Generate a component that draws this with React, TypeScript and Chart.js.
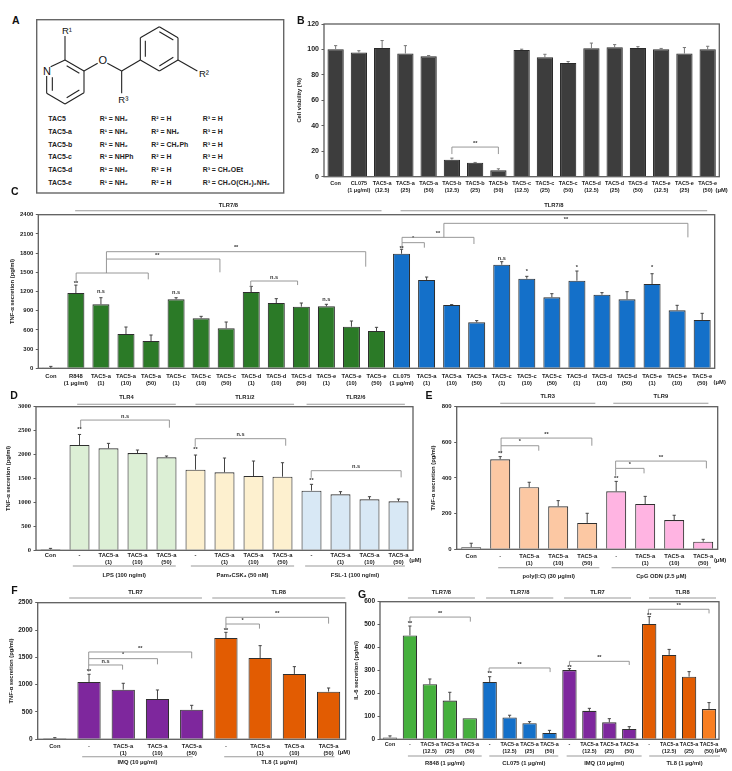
import React, { useEffect, useRef } from "react";
import { Chart, registerables } from "chart.js";

Chart.register(...registerables);

// ---------- Panel B ----------
const bLabels = [["Con"], ["CL075", "(1 μg/ml)"], ["TAC5-a", "(12.5)"], ["TAC5-a", "(25)"], ["TAC5-a", "(50)"], ["TAC5-b", "(12.5)"], ["TAC5-b", "(25)"], ["TAC5-b", "(50)"], ["TAC5-c", "(12.5)"], ["TAC5-c", "(25)"], ["TAC5-c", "(50)"], ["TAC5-d", "(12.5)"], ["TAC5-d", "(25)"], ["TAC5-d", "(50)"], ["TAC5-e", "(12.5)"], ["TAC5-e", "(25)"], ["TAC5-e", "(50)"]];
const bValues = [100.2, 97.6, 101.2, 96.8, 94.6, 13.4, 11, 5, 99.6, 93.9, 89.4, 101, 101.8, 101.2, 100.2, 96.8, 100.2];
const bTops = [103, 99, 107, 103, 95.2, 14.6, 11.2, 6.2, 100.2, 96.2, 90.5, 105, 103.8, 102.2, 100.8, 101.5, 102.5];
const bBrackets: any[] = [[5, 7, 23.3, 17.8, 17.8, "**"]];

// ---------- Panel C ----------
const cLabels = [["Con"], ["R848", "(1 μg/ml)"], ["TAC5-a", "(1)"], ["TAC5-a", "(10)"], ["TAC5-a", "(50)"], ["TAC5-c", "(1)"], ["TAC5-c", "(10)"], ["TAC5-c", "(50)"], ["TAC5-d", "(1)"], ["TAC5-d", "(10)"], ["TAC5-d", "(50)"], ["TAC5-e", "(1)"], ["TAC5-e", "(10)"], ["TAC5-e", "(50)"], ["CL075", "(1 μg/ml)"], ["TAC5-a", "(1)"], ["TAC5-a", "(10)"], ["TAC5-a", "(50)"], ["TAC5-c", "(1)"], ["TAC5-c", "(10)"], ["TAC5-c", "(50)"], ["TAC5-d", "(1)"], ["TAC5-d", "(10)"], ["TAC5-d", "(50)"], ["TAC5-e", "(1)"], ["TAC5-e", "(10)"], ["TAC5-e", "(50)"]];
const cValues = [5, 1177, 1000, 536, 427, 1078, 781, 625, 1192, 1020, 963, 968, 650, 583, 1790, 1380, 989, 718, 1619, 1400, 1109, 1369, 1150, 1078, 1317, 906, 755];
const cTops = [30, 1300, 1103, 645, 520, 1103, 812, 723, 1280, 1088, 1020, 1000, 739, 640, 1860, 1426, 995, 745, 1666, 1437, 1166, 1520, 1182, 1197, 1478, 984, 859];
const cBrackets: any[] = [
  [1.01, 3.89, 1489, 1343, 1390, ""],
  [2.22, 6.75, 1707, 1489, 1500, "**", 4.25],
  [2.22, 12.57, 1822, 1707, 1588, "**"],
  [7.98, 9.85, 1364, 1197, 1301, "n.s"],
  [14.02, 14.91, 1963, 1874, 1885, "*"],
  [14.02, 16.89, 2046, 1963, 1942, "**"],
  [15.69, 25.43, 2265, 2046, 2046, "**"],
];
const cMarks: any[] = [[1, 1330, "**"], [2, 1200, "n.s"], [5, 1185, "n.s"], [11, 1070, "n.s"], [14, 1880, "**"], [18, 1722, "n.s"], [19, 1510, "*"], [21, 1570, "*"], [24, 1570, "*"]];
const cHeaders: any[] = [[0.97, 13.2, "TLR7/8"], [13.96, 26.2, "TLR7/8"]];

// ---------- Panel D ----------
const dLabels = [["Con"], ["-"], ["TAC5-a", "(1)"], ["TAC5-a", "(10)"], ["TAC5-a", "(50)"], ["-"], ["TAC5-a", "(1)"], ["TAC5-a", "(10)"], ["TAC5-a", "(50)"], ["-"], ["TAC5-a", "(1)"], ["TAC5-a", "(10)"], ["TAC5-a", "(50)"]];
const dValues = [20, 2200, 2130, 2032, 1942, 1684, 1629, 1552, 1538, 1246, 1170, 1065, 1023];
const dTops = [40, 2420, 2234, 2095, 1970, 1990, 1928, 1865, 1830, 1378, 1225, 1120, 1072];
const dBrackets: any[] = [[1.04, 4.1, 2721, 2561, 2561, "n.s"], [4.99, 8.11, 2332, 2165, 2185, "n.s"], [8.99, 12.09, 1663, 1517, 1524, "n.s"]];
const dMarks: any[] = [[1, 2520, "**"], [5, 2109, "**"], [9, 1469, "**"]];
const dHeaders: any[] = [[0.92, 4.32, "TLR4"], [5.0, 8.4, "TLR1/2"], [8.83, 12.22, "TLR2/6"]];
const dFooters: any[] = [[0.77, 4.32, "LPS (100 ng/ml)"], [4.84, 8.4, "Pam₃CSK₄ (50 nM)"], [8.78, 12.22, "FSL-1 (100 ng/ml)"]];

// ---------- Panel E ----------
const eLabels = [["Con"], ["-"], ["TAC5-a", "(1)"], ["TAC5-a", "(10)"], ["TAC5-a", "(50)"], ["-"], ["TAC5-a", "(1)"], ["TAC5-a", "(10)"], ["TAC5-a", "(50)"]];
const eValues = [12, 505, 348, 241, 148, 325, 254, 164, 43];
const eTops = [34, 520, 376, 273, 202, 381, 297, 191, 56];
const eBrackets: any[] = [[1.03, 2.33, 581, 538, 553, "*"], [1.03, 4.16, 624, 581, 581, "**"], [4.98, 5.96, 454, 413, 426, "*"], [4.98, 8.11, 495, 454, 454, "**"]];
const eMarks: any[] = [[1, 535, "**"], [5, 400, "**"]];
const eHeaders: any[] = [[1.0, 4.28, "TLR3"], [4.9, 8.18, "TLR9"]];
const eFooters: any[] = [[0.93, 4.42, "poly(I:C) (30 μg/ml)"], [4.84, 8.27, "CpG ODN (2.5 μM)"]];

// ---------- Panel F ----------
const fLabels = [["Con"], ["-"], ["TAC5-a", "(1)"], ["TAC5-a", "(10)"], ["TAC5-a", "(50)"], ["-"], ["TAC5-a", "(1)"], ["TAC5-a", "(10)"], ["TAC5-a", "(50)"]];
const fValues = [18, 1049, 909, 738, 543, 1854, 1488, 1196, 872];
const fTops = [30, 1190, 1025, 903, 622, 1958, 1714, 1330, 939];
const fBrackets: any[] = [[0.99, 1.98, 1360, 1238, 1275, "n.s"], [0.99, 3, 1476, 1360, 1372, "*"], [0.99, 4, 1598, 1476, 1482, "**"], [5, 5.98, 2110, 2000, 2025, "*"], [5, 8, 2233, 2110, 2117, "**"]];
const fMarks: any[] = [[1, 1238, "**"], [5, 1995, "**"]];
const fHeaders: any[] = [[0.42, 4.3, "TLR7"], [4.6, 8.49, "TLR8"]];
const fFooters: any[] = [[0.8, 4.03, "IMQ (10 μg/ml)"], [4.95, 8.17, "TL8 (1 μg/ml)"]];

// ---------- Panel G ----------
const gLabels = [["Con"], ["-"], ["TAC5-a", "(12.5)"], ["TAC5-a", "(25)"], ["TAC5-a", "(50)"], ["-"], ["TAC5-a", "(12.5)"], ["TAC5-a", "(25)"], ["TAC5-a", "(50)"], ["-"], ["TAC5-a", "(12.5)"], ["TAC5-a", "(25)"], ["TAC5-a", "(50)"], ["-"], ["TAC5-a", "(12.5)"], ["TAC5-a", "(25)"], ["TAC5-a", "(50)"]];
const gValues = [8, 453, 240, 169, 92, 250, 95, 70, 28, 302, 124, 74, 45, 503, 368, 273, 132];
const gTops = [15, 494, 263, 205, 92, 273, 105, 77, 39, 308, 135, 90, 55, 535, 392, 295, 160];
const gBrackets: any[] = [[1, 4.03, 533, 506, 513, "**"], [4.97, 8.03, 311, 291, 293, "**"], [9, 12, 340, 321, 324, "**"], [12.96, 16, 567, 545, 549, "**"]];
const gMarks: any[] = [[1, 507, "**"], [5, 286, "**"], [9, 314, "**"], [13, 539, "**"]];
const gHeaders: any[] = [[0.9, 4.26, "TLR7/8"], [4.82, 8.19, "TLR7/8"], [8.73, 12.09, "TLR7"], [12.99, 16.35, "TLR8"]];
const gFooters: any[] = [[0.9, 4.6, "R848 (1 μg/ml)"], [4.98, 8.44, "CL075 (1 μg/ml)"], [8.86, 12.62, "IMQ (10 μg/ml)"], [13, 16.55, "TL8 (1 μg/ml)"]];

// ---------- Panel A table ----------
const aCompounds = ["TAC5", "TAC5-a", "TAC5-b", "TAC5-c", "TAC5-d", "TAC5-e"];
const aR1 = ["R¹ = NH₂", "R¹ = NH₂", "R¹ = NH₂", "R¹ = NHPh", "R¹ = NH₂", "R¹ = NH₂"];
const aR2 = ["R² = H", "R² = NH₂", "R² = CH₂Ph", "R² = H", "R² = H", "R² = H"];
const aR3 = ["R³ = H", "R³ = H", "R³ = H", "R³ = H", "R³ = CH₂OEt", "R³ = CH₂O(CH₂)₂NH₂"];

// ---------- Colours ----------
const GRAY = "#c4c4c4";
const DARK = "#3d3d3d";
const GREEN = "#2b7a27";
const BLUE = "#1470c9";
const LGREEN = "#dcefd5";
const LYELLOW = "#fdf0cf";
const LBLUE = "#d8e8f5";
const PEACH = "#fcc8a3";
const PINK = "#ffb4e2";
const PURPLE = "#7e279d";
const ORANGE = "#e25c02";
const GGREEN = "#45b03d";
const LORANGE = "#f87f22";

const rep = (groups: [number, string][]) => groups.flatMap(([n, c]) => Array(n).fill(c));

const SANS = "'Liberation Sans', Arial, sans-serif";
const SERIF = "'Liberation Serif', serif";

type Panel = {
  box: number[]; plot: number[]; labels: any[]; values: number[]; tops: number[]; colors: string[];
  yMax: number; step: number; yTitle: string; titleX: number; tickPad: number; yFont?: string; ySize?: number;
  barPct: number; brackets?: any[]; marks?: any[]; headers?: any[]; footers?: any[];
  headerLineY?: number; headerTextY?: number; footerLineY?: number; footerTextY?: number;
  unit?: number[]; whisker?: string; border?: string; xSize?: number;
};

const panels: Panel[] = [
  { box: [290, 0, 732, 200], plot: [324, 24, 719.3, 176.7], labels: bLabels, values: bValues, tops: bTops, colors: rep([[17, DARK]]), yMax: 120, step: 20, yTitle: "Cell viability (%)", titleX: 300, tickPad: 3, barPct: 0.7, brackets: bBrackets, unit: [16.6, 13.3], whisker: "#777", border: "#2a2a2a", ySize: 7, xSize: 5.5 },
  { box: [0, 198, 732, 388], plot: [38.3, 214.7, 714.7, 368.3], labels: cLabels, values: cValues, tops: cTops, colors: rep([[1, GRAY], [13, GREEN], [13, BLUE]]), yMax: 2400, step: 300, yTitle: "TNF-α secretion (pg/ml)", titleX: 12.7, tickPad: 4, barPct: 0.68, brackets: cBrackets, marks: cMarks, headers: cHeaders, headerLineY: 210.7, headerTextY: 205, unit: [26.7, 13.7] },
  { box: [0, 388, 426, 582], plot: [36, 406.7, 413, 550.3], labels: dLabels, values: dValues, tops: dTops, colors: rep([[1, DARK], [4, LGREEN], [4, LYELLOW], [4, LBLUE]]), yMax: 3000, step: 500, yTitle: "TNF-α secretion (pg/ml)", titleX: 9.3, tickPad: 1.5, barPct: 0.69, brackets: dBrackets, marks: dMarks, headers: dHeaders, footers: dFooters, headerLineY: 404.3, headerTextY: 397, footerLineY: 566, footerTextY: 575, unit: [12.58, 10.4], yFont: SERIF, ySize: 6.5 },
  { box: [415, 388, 732, 582], plot: [456.7, 406.7, 717.7, 549.3], labels: eLabels, values: eValues, tops: eTops, colors: rep([[1, "#ffffff"], [4, PEACH], [4, PINK]]), yMax: 800, step: 200, yTitle: "TNF-α secretion (pg/ml)", titleX: 434, tickPad: 3, barPct: 0.69, brackets: eBrackets, marks: eMarks, headers: eHeaders, footers: eFooters, headerLineY: 403.3, headerTextY: 396.7, footerLineY: 567.7, footerTextY: 576, unit: [8.58, 11.4] },
  { box: [0, 584, 360, 771], plot: [37.7, 602.7, 345.7, 739.3], labels: fLabels, values: fValues, tops: fTops, colors: rep([[1, DARK], [4, PURPLE], [4, ORANGE]]), yMax: 2500, step: 500, yTitle: "TNF-α secretion (pg/ml)", titleX: 11.7, tickPad: 3, barPct: 0.68, brackets: fBrackets, marks: fMarks, headers: fHeaders, footers: fFooters, headerLineY: 598, headerTextY: 592.7, footerLineY: 756.7, footerTextY: 762.3, unit: [8.45, 12.7], ySize: 6.5 },
  { box: [345, 584, 732, 771], plot: [380, 601.7, 719, 739.3], labels: gLabels, values: gValues, tops: gTops, colors: rep([[1, "#9a9a9a"], [4, GGREEN], [4, BLUE], [4, PURPLE], [3, ORANGE], [1, LORANGE]]), yMax: 600, step: 100, yTitle: "IL-6 secretion (pg/ml)", titleX: 356.7, tickPad: 2, barPct: 0.72, brackets: gBrackets, marks: gMarks, headers: gHeaders, footers: gFooters, headerLineY: 598, headerTextY: 592.7, footerLineY: 756, footerTextY: 763, unit: [16.59, 11.4], ySize: 6.5, xSize: 5.4 },
];

function overlay(p: Panel) {
  return {
    id: "overlay",
    afterDraw(chart: any) {
      const { ctx, chartArea: a, scales } = chart;
      const x = scales.x, y = scales.y;
      const oy = p.box[1];
      ctx.save();
      // frame
      ctx.strokeStyle = "#5e5e5e";
      ctx.lineWidth = 1.3;
      ctx.strokeRect(a.left, a.top, a.right - a.left, a.bottom - a.top);
      // whiskers
      ctx.strokeStyle = p.whisker || "#444";
      ctx.lineWidth = 1;
      p.tops.forEach((t, i) => {
        if (t <= p.values[i]) return;
        const px = x.getPixelForValue(i), py = y.getPixelForValue(t), vy = y.getPixelForValue(p.values[i]);
        ctx.beginPath();
        ctx.moveTo(px, vy); ctx.lineTo(px, py);
        ctx.moveTo(px - 1.6, py); ctx.lineTo(px + 1.6, py);
        ctx.stroke();
      });
      // brackets
      ctx.textAlign = "center";
      ctx.textBaseline = "middle";
      ctx.font = `bold 5.6px ${SANS}`;
      (p.brackets || []).forEach(([from, to, v, vl, vr, label, labelIdx]: any[]) => {
        const x0 = x.getPixelForValue(from), x1 = x.getPixelForValue(to);
        ctx.strokeStyle = "#8c8c8c";
        ctx.lineWidth = 0.9;
        ctx.beginPath();
        ctx.moveTo(x0, y.getPixelForValue(vl));
        ctx.lineTo(x0, y.getPixelForValue(v));
        ctx.lineTo(x1, y.getPixelForValue(v));
        ctx.lineTo(x1, y.getPixelForValue(vr));
        ctx.stroke();
        ctx.fillStyle = "#333";
        const lx = labelIdx != null ? x.getPixelForValue(labelIdx) : (x0 + x1) / 2;
        if (label) ctx.fillText(label, lx, y.getPixelForValue(v) - 4);
      });
      (p.marks || []).forEach(([idx, v, label]: any[]) => {
        ctx.fillStyle = "#333";
        ctx.fillText(label, x.getPixelForValue(idx), y.getPixelForValue(v));
      });
      // group headers / footers
      const group = (rows: any[] | undefined, lineY?: number, textY?: number) => {
        (rows || []).forEach(([from, to, label]: any[]) => {
          const x0 = x.getPixelForValue(from), x1 = x.getPixelForValue(to);
          ctx.strokeStyle = "#9a9a9a";
          ctx.lineWidth = 1.1;
          ctx.beginPath();
          ctx.moveTo(x0, (lineY as number) - oy);
          ctx.lineTo(x1, (lineY as number) - oy);
          ctx.stroke();
          ctx.fillStyle = "#222";
          ctx.fillText(label, (x0 + x1) / 2, (textY as number) - oy);
        });
      };
      ctx.font = `bold 5.8px ${SANS}`;
      group(p.headers, p.headerLineY, p.headerTextY);
      group(p.footers, p.footerLineY, p.footerTextY);
      // unit note
      if (p.unit) {
        ctx.fillStyle = "#222";
        ctx.fillText("(μM)", x.getPixelForValue(p.unit[0]), a.bottom + p.unit[1]);
      }
      ctx.restore();
    },
  };
}

function ChartPanel({ p }: { p: Panel }) {
  const ref = useRef<HTMLCanvasElement>(null);
  const [bx0, by0, bx1, by1] = p.box;
  const [l, t, r, b] = p.plot;
  useEffect(() => {
    const chart = new Chart(ref.current as HTMLCanvasElement, {
      type: "bar",
      data: {
        labels: p.labels,
        datasets: [{
          data: p.values,
          backgroundColor: p.colors,
          borderColor: p.border || "#2f2f2f",
          borderWidth: 1.1,
          barPercentage: p.barPct,
          categoryPercentage: 1,
        }],
      },
      options: {
        responsive: false,
        animation: false,
        layout: { padding: { left: 0, top: t - by0, right: bx1 - r, bottom: 0 } },
        plugins: { legend: { display: false }, tooltip: { enabled: false }, title: { display: false } },
        scales: {
          x: {
            offset: true,
            grid: { display: false, drawTicks: false },
            border: { display: false },
            ticks: { autoSkip: false, maxRotation: 0, minRotation: 0, padding: p.tickPad, color: "#222", font: { family: SANS, size: p.xSize || 5.8, weight: "bold", lineHeight: 1.25 } },
            afterFit: (s: any) => { s.height = by1 - b; s.paddingLeft = 0; s.paddingRight = 0; },
          },
          y: {
            min: 0,
            max: p.yMax,
            grid: { drawOnChartArea: false, drawTicks: true, tickLength: 2.5, color: "#5e5e5e" },
            border: { display: false },
            ticks: { stepSize: p.step, padding: 2.5, color: "#222", callback: (v: any) => String(v), font: { family: p.yFont || SANS, size: p.ySize || 6, weight: "bold" } },
            title: { display: true, text: p.yTitle, color: "#222", font: { family: SANS, size: 5.8, weight: "bold" }, padding: { top: Math.max(0, p.titleX - bx0 - 4), bottom: 0 } },
            afterFit: (s: any) => { s.width = l - bx0; },
          },
        },
      } as any,
      plugins: [overlay(p)],
    });
    return () => chart.destroy();
  }, []);
  return <canvas ref={ref} width={bx1 - bx0} height={by1 - by0} style={{ position: "absolute", left: bx0, top: by0, width: bx1 - bx0, height: by1 - by0 }} />;
}

const letters: [string, number, number][] = [["A", 15.7, 20], ["B", 300.7, 20], ["C", 14.7, 190.7], ["D", 14, 395], ["E", 429, 395], ["F", 14.5, 590], ["G", 362, 594]];
const rowY = [119, 131.7, 144.3, 157, 170, 183];
const colX = [48.3, 99.7, 151.3, 202.7];

function Structure() {
  const line = (pts: number[], key: number) => (
    <line key={key} x1={pts[0] / 3} y1={pts[1] / 3} x2={pts[2] / 3} y2={pts[3] / 3} stroke="#222" strokeWidth={1.1} />
  );
  const bonds = [
    [152, 200, 195, 180], [195, 180, 252, 213], [252, 213, 252, 278], [252, 278, 195, 312], [195, 312, 140, 280], [140, 280, 140, 228],
    [200, 197, 238, 220], [238, 270, 200, 293], [157, 272, 157, 232],
    [195, 180, 195, 108], [252, 213, 293, 190], [322, 190, 365, 213], [365, 213, 365, 280], [365, 213, 421, 180],
    [421, 180, 421, 113], [421, 113, 478, 80], [478, 80, 534, 113], [534, 113, 534, 180], [534, 180, 478, 213], [478, 213, 421, 180],
    [436, 170, 436, 122], [478, 95, 520, 120], [478, 198, 520, 172], [534, 180, 592, 213],
  ];
  const atom = (t: string, x: number, y: number, size = 9.5) => (
    <text x={x / 3} y={y / 3} fontSize={size} fontWeight="normal" fontFamily={SANS} fill="#111" textAnchor="middle">{t}</text>
  );
  const cols = [aCompounds, aR1, aR2, aR3];
  return (
    <svg width={732} height={205} style={{ position: "absolute", left: 0, top: 0 }}>
      <rect x={36.7} y={19.7} width={247} height={173.3} fill="none" stroke="#666" strokeWidth={1.4} />
      {bonds.map(line)}
      {atom("N", 141, 225, 11)}
      {atom("O", 308, 192, 11)}
      {atom("R¹", 201, 103)}
      {atom("R²", 612, 230)}
      {atom("R³", 370, 308)}
      {cols.map((col, c) => col.map((t, i) => (
        <text key={`${c}-${i}`} x={colX[c]} y={rowY[i] + 2.4} fontSize={6.9} fontWeight="bold" fontFamily={SANS} fill="#222">{t}</text>
      )))}
    </svg>
  );
}

export default function App() {
  return (
    <div style={{ position: "absolute", left: 0, top: 0, width: 732, height: 771, background: "#fff", overflow: "hidden", filter: "blur(0.35px)" }}>
      <Structure />
      {panels.map((p, i) => <ChartPanel key={i} p={p} />)}
      {letters.map(([t, x, y]) => (
        <div key={t} style={{ position: "absolute", left: x, top: y, transform: "translate(-50%,-50%)", font: `bold 10.5px ${SANS}`, color: "#111" }}>{t}</div>
      ))}
    </div>
  );
}
